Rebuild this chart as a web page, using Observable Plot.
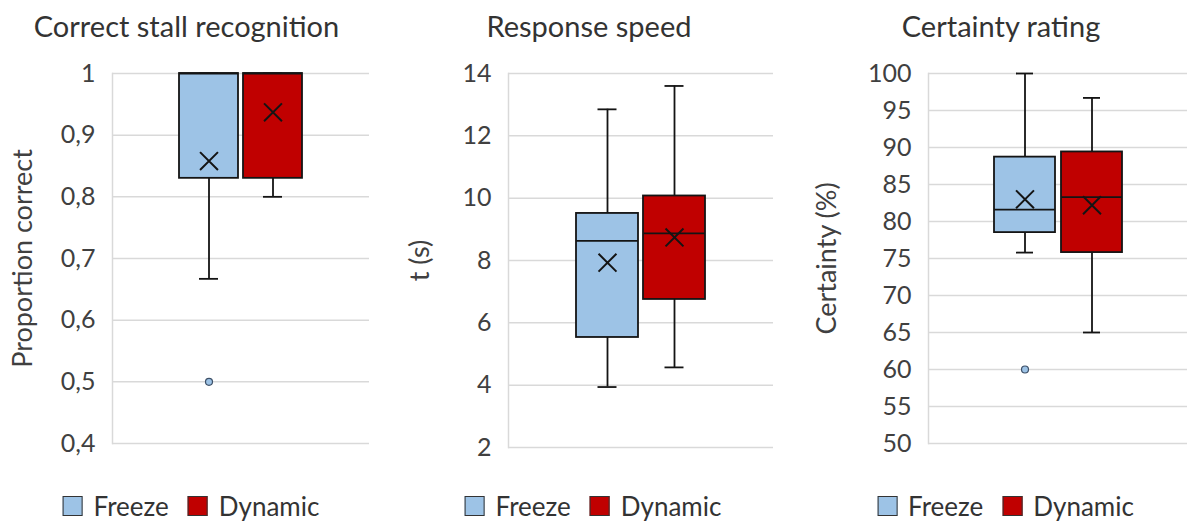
<!DOCTYPE html>
<html>
<head>
<meta charset="utf-8">
<script src="https://cdn.jsdelivr.net/npm/d3@7"></script>
<script src="https://cdn.jsdelivr.net/npm/@observablehq/plot@0.6"></script>
<style>
  html, body { margin: 0; padding: 0; background: #fff; overflow: hidden; }
  #chart { position: relative; width: 1187px; height: 523px; font-family: Lato, sans-serif; color: #333; }
  .panel { position: absolute; top: 0; height: 523px; }
  .panel svg { position: absolute; left: 0; top: 0; }
  .title { position: absolute; top: 11px; font-size: 29px; line-height: 29px; white-space: nowrap; transform: translateX(-50%); }
  .legend { position: absolute; top: 495px; height: 22px; display: flex; align-items: center; transform: translateX(-50%); font-size: 26px; white-space: nowrap; }
  .swatch { width: 18px; height: 18px; border: 1.6px solid #333; margin-right: 11px; }
  .legend span.name { margin-right: 19px; }
  .legend span.name:last-child { margin-right: 0; }
</style>
</head>
<body>
<div id="chart"></div>
<script>
// Groups and their fill colours
const groups = ["Freeze", "Dynamic"];
const groupColors = ["#9DC3E6", "#C00000"];

// Per-group box statistics: [low whisker, Q1, median, Q3, high whisker, mean]
const recognitionStats = [
  [0.667, 0.83, 1.0, 1.0, 1.0, 0.858],
  [0.80, 0.83, 1.0, 1.0, 1.0, 0.937]
];
const responseStats = [
  [3.94, 5.53, 8.63, 9.51, 12.85, 7.93],
  [4.57, 6.75, 8.87, 10.07, 13.6, 8.74]
];
const certaintyStats = [
  [75.8, 78.5, 81.6, 88.7, 100, 83.0],
  [65.0, 75.8, 83.3, 89.4, 96.7, 82.2]
];

// Points beyond the whiskers: [group, value]
const recognitionOutliers = [["Freeze", 0.5]];
const responseOutliers = [];
const certaintyOutliers = [["Freeze", 60]];

// Y-axis ticks
const recognitionTicks = [0.4, 0.5, 0.6, 0.7, 0.8, 0.9, 1];
const responseTicks = [2, 4, 6, 8, 10, 12, 14];
const certaintyTicks = [50, 55, 60, 65, 70, 75, 80, 85, 90, 95, 100];

const commaDecimal = (d) => String(d).replace(".", ",");

const panels = [
  {
    title: "Correct stall recognition", label: "Proportion correct",
    stats: recognitionStats, outliers: recognitionOutliers, ticks: recognitionTicks, format: commaDecimal,
    left: 0, width: 395, marginLeft: 112, marginRight: 26, marginBottom: 80,
    paddingInner: 0.08, paddingOuter: 1.03, capInset: 20, labelOffset: 100,
    titleX: 186.5, legendX: 191
  },
  {
    title: "Response speed", label: "t (s)",
    stats: responseStats, outliers: responseOutliers, ticks: responseTicks, format: (d) => String(d),
    left: 395, width: 395, marginLeft: 113, marginRight: 17, marginBottom: 76,
    paddingInner: 0.082, paddingOuter: 1.0, capInset: 21.5, labelOffset: 99,
    titleX: 194, legendX: 198
  },
  {
    title: "Certainty rating", label: "Certainty (%)",
    stats: certaintyStats, outliers: certaintyOutliers, ticks: certaintyTicks, format: (d) => String(d),
    left: 790, width: 400, marginLeft: 138, marginRight: 1, marginBottom: 80,
    paddingInner: 0.089, paddingOuter: 0.97, capInset: 22, labelOffset: 112,
    titleX: 211, legendX: 215.5
  }
];

const root = d3.select("#chart");

for (const p of panels) {
  const rows = groups.map((group, i) => {
    const [low, q1, median, q3, high, mean] = p.stats[i];
    return {group, low, q1, median, q3, high, mean};
  });
  const outliers = p.outliers.map(([group, value]) => ({group, value}));
  const ink = "#141414";

  const svg = Plot.plot({
    width: p.width,
    height: 523,
    marginTop: 73,
    marginBottom: p.marginBottom,
    marginLeft: p.marginLeft,
    marginRight: p.marginRight,
    style: {fontFamily: "Lato, sans-serif", fontSize: "25px", color: "#404040", background: "transparent", overflow: "visible"},
    x: {domain: groups, paddingInner: p.paddingInner, paddingOuter: p.paddingOuter, axis: null},
    y: {domain: [p.ticks[0], p.ticks[p.ticks.length - 1]]},
    color: {domain: groups, range: groupColors},
    marks: [
      Plot.gridY(p.ticks, {stroke: "#d9d9d9", strokeOpacity: 1, strokeWidth: 1.5}),
      Plot.frame({anchor: "left", stroke: "#d9d9d9", strokeOpacity: 1, strokeWidth: 1.5}),
      Plot.axisY(p.ticks, {
        tickSize: 0, tickPadding: 17, tickFormat: p.format, fontSize: 25,
        label: p.label, labelAnchor: "center", labelArrow: "none", labelOffset: p.labelOffset
      }),
      // whiskers and their caps
      Plot.ruleX(rows, {x: "group", y1: "low", y2: "high", stroke: ink, strokeWidth: 1.8}),
      Plot.tickY(rows, {x: "group", y: "low", insetLeft: p.capInset, insetRight: p.capInset, stroke: ink, strokeWidth: 1.8}),
      Plot.tickY(rows, {x: "group", y: "high", insetLeft: p.capInset, insetRight: p.capInset, stroke: ink, strokeWidth: 1.8}),
      // interquartile box, median and mean
      Plot.barY(rows, {x: "group", y1: "q1", y2: "q3", fill: "group", stroke: ink, strokeWidth: 1.8}),
      Plot.tickY(rows, {x: "group", y: "median", stroke: ink, strokeWidth: 1.8}),
      Plot.dot(rows, {x: "group", y: "mean", symbol: "times", r: 8.2, stroke: ink, strokeWidth: 2}),
      // outliers
      Plot.dot(outliers, {x: "group", y: "value", r: 3.5, fill: "group", stroke: "#3d5068", strokeWidth: 1.2})
    ]
  });

  d3.select(svg).selectAll('[aria-label="y-axis label"] text').attr("font-size", 27);

  const panel = root.append("div").attr("class", "panel")
    .style("left", p.left + "px").style("width", p.width + "px");
  panel.node().appendChild(svg);

  panel.append("div").attr("class", "title").style("left", p.titleX + "px").text(p.title);

  const legend = panel.append("div").attr("class", "legend").style("left", p.legendX + "px");
  groups.forEach((g, i) => {
    legend.append("div").attr("class", "swatch").style("background", groupColors[i]);
    legend.append("span").attr("class", "name").text(g);
  });
}
</script>
</body>
</html>
